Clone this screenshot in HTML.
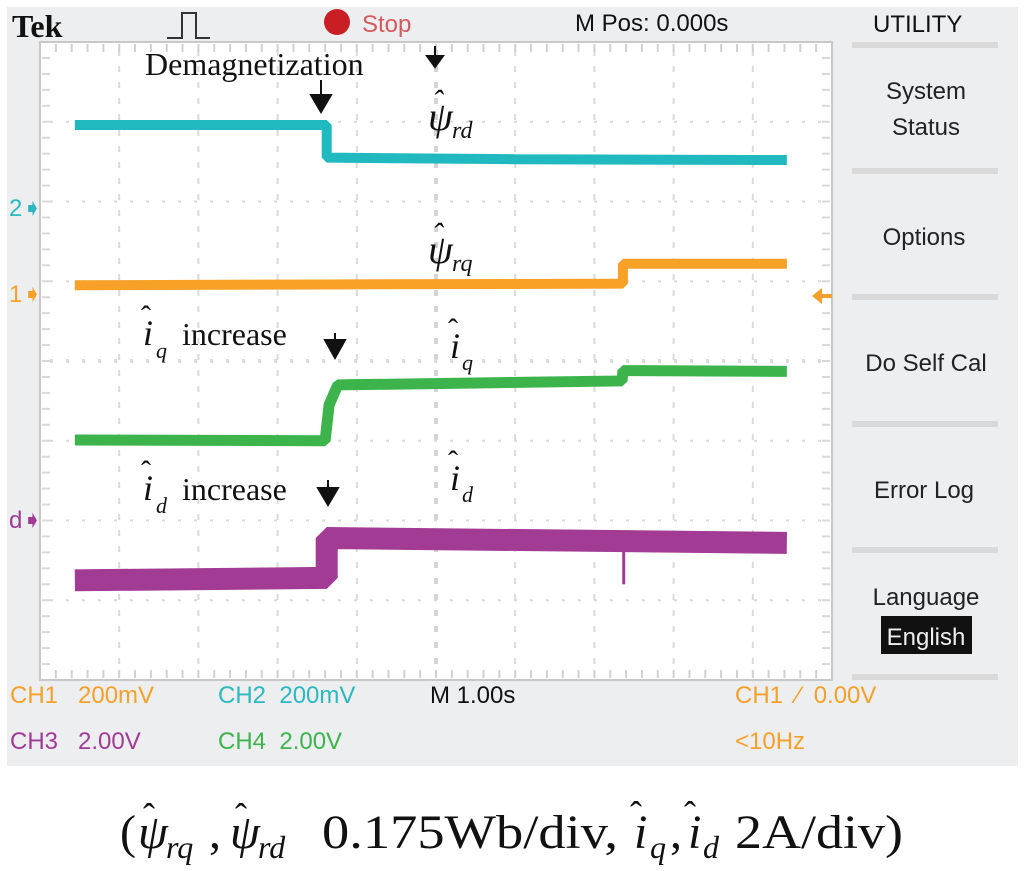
<!DOCTYPE html>
<html><head><meta charset="utf-8"><style>
html,body{margin:0;padding:0;background:#fff;width:1024px;height:871px;overflow:hidden}
svg text.px{font-family:"Liberation Sans",sans-serif;font-size:24px;white-space:pre}
svg text.sr{font-family:"Liberation Serif",serif}
</style></head><body>
<svg id="scope" width="1024" height="871" viewBox="0 0 1024 871" xmlns="http://www.w3.org/2000/svg" xml:space="preserve">
<rect x="7" y="7" width="1011" height="759" fill="#edeef0"/>
<rect x="40" y="42" width="792" height="638" fill="#fff" stroke="#c8c8c8" stroke-width="2"/>
<g id="grid"></g>
<g id="traces"></g>
<text x="12" y="37" font-family="Liberation Serif,serif" font-weight="bold" font-size="32" fill="#111">Tek</text>
<path d="M167 38 H182 V13 H196 V38 H210" fill="none" stroke="#333" stroke-width="2"/>
<circle cx="337" cy="22" r="13" fill="#c81e24"/>
<text class="px" x="362" y="32" fill="#d45a5e" font-size="26">Stop</text>
<text class="px" x="575" y="31" fill="#111">M Pos: 0.000s</text>
<text class="px" x="873" y="32" fill="#111" font-size="26">UTILITY</text>
<path d="M427 56 H443 L435 67 Z M435 46 V58" fill="#111" stroke="#111" stroke-width="2"/>
<g fill="#d9d9d9">
<rect x="852" y="42" width="146" height="6"/><rect x="852" y="168" width="146" height="6"/><rect x="852" y="294" width="146" height="6"/>
<rect x="852" y="421" width="146" height="6"/><rect x="852" y="547" width="146" height="6"/><rect x="852" y="674" width="146" height="6"/>
</g>
<text class="px" x="926" y="99" text-anchor="middle" fill="#222" font-size="26">System</text>
<text class="px" x="926" y="135" text-anchor="middle" fill="#222" font-size="26">Status</text>
<text class="px" x="924" y="245" text-anchor="middle" fill="#222" font-size="26">Options</text>
<text class="px" x="926" y="371" text-anchor="middle" fill="#222" font-size="26">Do Self Cal</text>
<text class="px" x="924" y="498" text-anchor="middle" fill="#222" font-size="26">Error Log</text>
<text class="px" x="926" y="605" text-anchor="middle" fill="#222" font-size="26">Language</text>
<rect x="881" y="616" width="91" height="38" fill="#111"/>
<text class="px" x="926" y="645" text-anchor="middle" fill="#eee" font-size="26">English</text>
<text class="px" x="9" y="216" fill="#2bb8c0" font-size="20">2➧</text>
<text class="px" x="9" y="302" fill="#f5a02a" font-size="20">1➧</text>
<text class="px" x="9" y="528" fill="#a03a96" font-size="20">d➧</text>
<path d="M812 296 L822 288 V304 Z M820 294 H832 V298 H820Z" fill="#f5a02a"/>
<text class="px" x="10" y="703" fill="#f5a02a">CH1   200mV</text>
<text class="px" x="218" y="703" fill="#2bb8c0">CH2  200mV</text>
<text class="px" x="430" y="703" fill="#111">M 1.00s</text>
<text class="px" x="735" y="703" fill="#f5a02a">CH1  ∕  0.00V</text>
<text class="px" x="10" y="749" fill="#a03a96">CH3   2.00V</text>
<text class="px" x="218" y="749" fill="#3cb44b">CH4  2.00V</text>
<text class="px" x="735" y="749" fill="#f5a02a">&lt;10Hz</text>
<text class="sr" x="145" y="75" font-size="32" fill="#111">Demagnetization</text>
<g fill="#111" stroke="#111" stroke-width="2">
<path d="M321 80 V100"/><path d="M311 95 H331 L321 112 Z"/>
<path d="M335 333 V345"/><path d="M325 340 H345 L335 358 Z"/>
<path d="M328 480 V493"/><path d="M318 488 H338 L328 505 Z"/>
</g>
<g class="sr" font-family="Liberation Serif,serif" font-style="italic" fill="#111">
<text x="428" y="130" font-size="40">ψ</text><text x="432" y="112" font-size="32">ˆ</text><text x="452" y="138" font-size="24">rd</text></g>
<g font-family="Liberation Serif,serif" font-style="italic" fill="#111">
<text x="428" y="263" font-size="40">ψ</text><text x="432" y="245" font-size="32">ˆ</text><text x="452" y="271" font-size="24">rq</text></g>
<g font-family="Liberation Serif,serif" fill="#111">
<text x="143" y="345" font-size="36" font-style="italic">i</text><text x="141" y="326" font-size="30">ˆ</text><text x="156" y="358" font-size="22" font-style="italic">q</text><text x="182" y="345" font-size="32">increase</text></g>
<g font-family="Liberation Serif,serif" fill="#111">
<text x="450" y="358" font-size="36" font-style="italic">i</text><text x="448" y="339" font-size="30">ˆ</text><text x="462" y="370" font-size="22" font-style="italic">q</text></g>
<g font-family="Liberation Serif,serif" fill="#111">
<text x="143" y="500" font-size="36" font-style="italic">i</text><text x="141" y="481" font-size="30">ˆ</text><text x="156" y="513" font-size="22" font-style="italic">d</text><text x="182" y="500" font-size="32">increase</text></g>
<g font-family="Liberation Serif,serif" fill="#111">
<text x="450" y="490" font-size="36" font-style="italic">i</text><text x="448" y="471" font-size="30">ˆ</text><text x="462" y="502" font-size="22" font-style="italic">d</text></g>
<g font-family="Liberation Serif,serif" font-size="48" fill="#111">
<text x="120" y="848">(</text>
<text x="138" y="848" font-style="italic">ψ</text><text x="143" y="828" font-size="36">ˆ</text><text x="166" y="858" font-size="32" font-style="italic">rq</text>
<text x="209" y="848">,</text>
<text x="230" y="848" font-style="italic">ψ</text><text x="235" y="828" font-size="36">ˆ</text><text x="258" y="858" font-size="32" font-style="italic">rd</text>
<text x="322" y="848" textLength="296" lengthAdjust="spacingAndGlyphs">0.175Wb/div,</text>
<text x="634" y="848" font-style="italic">i</text><text x="630" y="826" font-size="36">ˆ</text><text x="650" y="858" font-size="32" font-style="italic">q</text>
<text x="670" y="848">,</text>
<text x="688" y="848" font-style="italic">i</text><text x="684" y="826" font-size="36">ˆ</text><text x="703" y="858" font-size="32" font-style="italic">d</text>
<text x="735" y="848" textLength="168" lengthAdjust="spacingAndGlyphs">2A/div)</text>
</g>
</svg>
<script>
// time in divisions (0..10), level in divisions from top (0..8)
const ch2Times = [0.44, 3.62, 3.62, 6.0, 9.43];
const ch2Levels = [1.04, 1.04, 1.45, 1.47, 1.48];
const ch1Times = [0.44, 3.6, 7.36, 7.36, 9.43];
const ch1Levels = [3.05, 3.04, 3.03, 2.78, 2.78];
const ch4Times = [0.44, 3.6, 3.65, 3.76, 7.35, 7.36, 9.43];
const ch4Levels = [4.99, 5.0, 4.55, 4.3, 4.25, 4.12, 4.13];
const ch3Times = [0.44, 3.62, 3.62, 9.43];
const ch3Levels = [6.75, 6.72, 6.22, 6.28];
const ch3SpikeTimes = [7.37];
const ch3SpikeLevels = [6.8];
const svgNS = "http://www.w3.org/2000/svg";
const X0 = 40, XW = 79.2, Y0 = 42, YH = 79.75;
function xAt(t){ return X0 + t * XW; }
function yAt(v){ return Y0 + v * YH; }
const grid = document.getElementById('grid');
for (let i = 1; i < 10; i++) {
  const l = document.createElementNS(svgNS, 'line');
  
  
  l.setAttribute('x1', xAt(i)); l.setAttribute('x2', xAt(i));
  l.setAttribute('y1', 50); l.setAttribute('y2', 672);
  l.setAttribute('stroke', i === 5 ? '#d4d4d4' : '#dadada');
  l.setAttribute('stroke-width', i === 5 ? 4 : 2);
  l.setAttribute('stroke-dasharray', '6 10');
  grid.appendChild(l);
}
for (let j = 1; j < 8; j++) {
  const l = document.createElementNS(svgNS, 'line');
  
  
  l.setAttribute('x1', 50); l.setAttribute('x2', 830);
  l.setAttribute('y1', yAt(j)); l.setAttribute('y2', yAt(j));
  l.setAttribute('stroke', '#dadada');
  l.setAttribute('stroke-width', j === 4 ? 4 : 2);
  l.setAttribute('stroke-dasharray', '3 13');
  grid.appendChild(l);
}
for (let k = 1; k < 50; k++) {
  const x = X0 + k * XW / 5;
  [[44, 52], [670, 678]].forEach(([a, b]) => {
    const t = document.createElementNS(svgNS, 'line');
    
    
    t.setAttribute('x1', x); t.setAttribute('x2', x); t.setAttribute('y1', a); t.setAttribute('y2', b);
    t.setAttribute('stroke', '#d0d0d0'); t.setAttribute('stroke-width', 2);
    grid.appendChild(t);
  });
}
for (let k = 1; k < 40; k++) {
  const y = Y0 + k * YH / 5;
  [[42, 50], [822, 830]].forEach(([a, b]) => {
    const t = document.createElementNS(svgNS, 'line');
    
    
    t.setAttribute('x1', a); t.setAttribute('x2', b); t.setAttribute('y1', y); t.setAttribute('y2', y);
    t.setAttribute('stroke', '#d8d8d8'); t.setAttribute('stroke-width', 2);
    grid.appendChild(t);
  });
}
const traces = document.getElementById('traces');
function trace(name, ts, vs, color, w) {
  const p = document.createElementNS(svgNS, 'polyline');
  
  
  p.setAttribute('points', ts.map((t, i) => xAt(t) + ',' + yAt(vs[i])).join(' '));
  p.setAttribute('fill', 'none');
  p.setAttribute('stroke', color);
  p.setAttribute('stroke-width', w);
  p.setAttribute('stroke-linejoin', 'bevel');
  traces.appendChild(p);
}
trace('ch2-psi-rd-trace', ch2Times, ch2Levels, '#20b9bf', 10);
trace('ch1-psi-rq-trace', ch1Times, ch1Levels, '#f7a128', 10);
trace('ch4-iq-trace', ch4Times, ch4Levels, '#3cb44b', 11);
trace('ch3-id-trace', ch3Times, ch3Levels, '#a23b94', 22);
ch3SpikeTimes.forEach((t, i) => {
  const s = document.createElementNS(svgNS, 'line');
  
  
  s.setAttribute('x1', xAt(t)); s.setAttribute('x2', xAt(t));
  s.setAttribute('y1', yAt(6.3)); s.setAttribute('y2', yAt(ch3SpikeLevels[i]));
  s.setAttribute('stroke', '#a23b94'); s.setAttribute('stroke-width', 3);
  traces.appendChild(s);
});
</script>
</body></html>
